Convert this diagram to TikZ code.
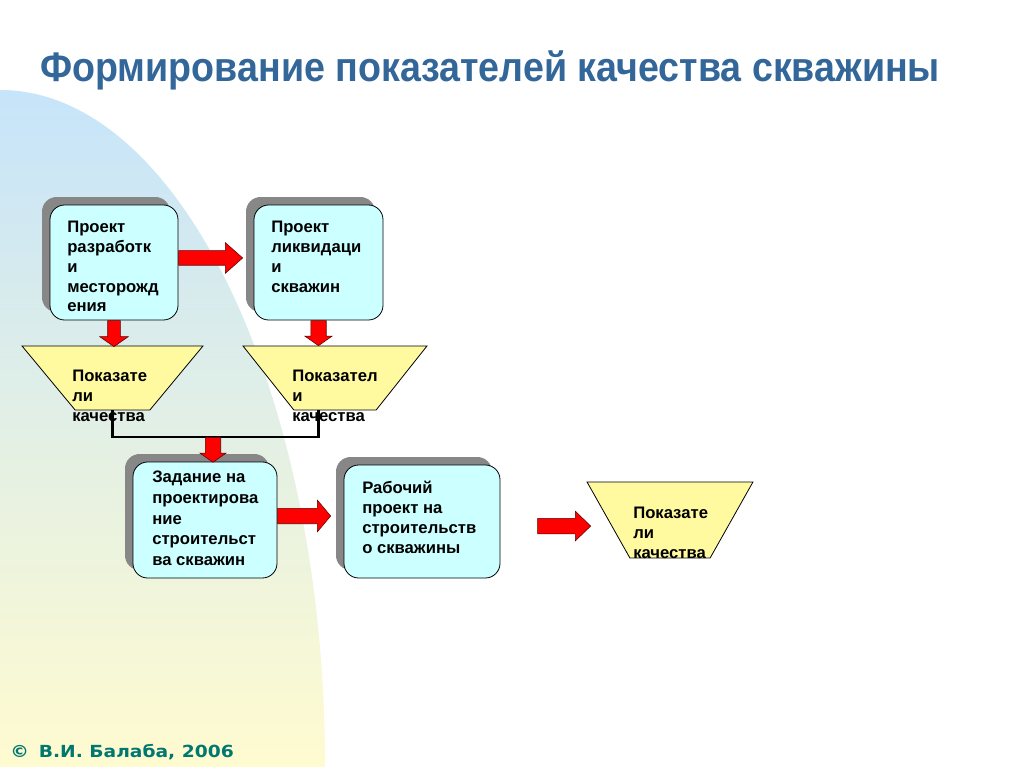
\documentclass[tikz,border=0pt]{standalone}
\usepackage{fontspec}
\setmainfont{Liberation Sans}
\newfontfamily\titlefont[FakeStretch=0.91]{Liberation Sans}
\newfontfamily\footfont[FakeStretch=1.12]{DejaVu Sans}
\usepackage{xcolor}
\usetikzlibrary{shapes.geometric,shapes.arrows,shadows,calc}
\definecolor{boxcyan}{RGB}{204,255,255}
\definecolor{trapyellow}{RGB}{255,250,160}
\definecolor{shadegray}{RGB}{135,135,135}
\definecolor{arrowred}{RGB}{255,0,0}
\definecolor{arrowedge}{RGB}{90,0,0}
\definecolor{titleblue}{RGB}{51,102,153}
\definecolor{footteal}{RGB}{0,120,112}
\definecolor{bgblue}{RGB}{198,228,250}
\definecolor{bggreen}{RGB}{228,242,228}
\definecolor{bgyellow}{RGB}{255,251,208}
\tikzset{
  prjbox/.style = {draw, fill=boxcyan, rounded corners=11pt, inner sep=0pt, line width=0.6pt,
    drop shadow={shadow xshift=-6pt, shadow yshift=6pt, fill=shadegray, opacity=1}},
  qualtrap/.style = {draw, fill=trapyellow, trapezium, shape border rotate=180,
    trapezium stretches=true, inner sep=2pt, line width=0.6pt},
  boxtext/.style = {anchor=north west, align=left, inner sep=0pt,
    font=\bfseries\fontsize{12.5}{14.85}\selectfont},
  fatright/.style = {single arrow, draw=arrowedge, fill=arrowred, line width=0.4pt,
    inner xsep=0pt, single arrow head indent=0pt, anchor=tail},
  fatdown/.style = {single arrow, draw=arrowedge, fill=arrowred, line width=0.4pt,
    inner ysep=0pt, single arrow head indent=0pt, anchor=tail, shape border rotate=270},
  joinline/.style = {black, line width=1.6pt},
}

\begin{document}
\begin{tikzpicture}[x=0.75pt,y=-0.75pt]
  \useasboundingbox (0,0) rectangle (1024,767);
  \fill[white] (0,0) rectangle (1024,767);
  \shade[top color=bgblue, middle color=bggreen, bottom color=bgyellow]
    (0,90) arc[start angle=-90, end angle=0, x radius=325, y radius=677] -- (0,767) -- cycle;

  \node[anchor=base west, text=titleblue, inner sep=0pt,
        font=\titlefont\bfseries\fontsize{31}{36}\selectfont] (title) at (40,81)
        {Формирование показателей качества скважины};

  \node[prjbox, minimum width=96pt, minimum height=86.25pt] (pr1) at (114,262.5) {};
  \node[prjbox, minimum width=96.75pt, minimum height=86.25pt] (pr2) at (318.5,262.5) {};
  \node[qualtrap, minimum width=135.75pt, minimum height=48pt, trapezium angle=54.6] (q1) at (112.5,378) {};
  \node[qualtrap, minimum width=138pt, minimum height=48pt, trapezium angle=58.3] (q2) at (335,378) {};
  \node[prjbox, minimum width=108pt, minimum height=87pt] (pr3) at (205,520) {};
  \node[prjbox, minimum width=117pt, minimum height=84.75pt] (pr4) at (422,521.5) {};
  \node[qualtrap, minimum width=124.5pt, minimum height=57pt, trapezium angle=61.9] (q3) at (670,520) {};

  \node[boxtext] (pr1txt) at (67,221) {Проект\\разработк\\и\\месторожд\\ения};
  \node[boxtext] (pr2txt) at (271,221) {Проект\\ликвидаци\\и\\скважин};
  \node[boxtext] (q1txt) at (72,370) {Показате\\ли\\качества};
  \node[boxtext] (q2txt) at (292,370) {Показател\\и\\качества};
  \node[boxtext, font=\bfseries\fontsize{12.5}{15.5}\selectfont] (pr3txt) at (152,471)
    {Задание на\\проектирова\\ние\\строительст\\ва скважин};
  \node[boxtext] (pr4txt) at (362,481) {Рабочий\\проект на\\строительств\\о скважины};
  \node[boxtext] (q3txt) at (633,507) {Показате\\ли\\качества};

  \coordinate (join) at (213,437);
  \draw[joinline] (q1.south) |- (join) -| (pr2 |- q2.south);

  \node[fatright, minimum height=48pt, inner ysep=5.25pt, single arrow head extend=6pt,
        single arrow tip angle=83] (a12) at ([yshift=3.4pt]pr1.east) {};
  \node[fatdown, minimum height=19.5pt, inner xsep=4.5pt, single arrow head extend=6pt,
        single arrow tip angle=110] (a1q) at (pr1.south) {};
  \node[fatdown, minimum height=18.75pt, inner xsep=5.6pt, single arrow head extend=4.5pt,
        single arrow tip angle=110] (a2q) at (pr2.south) {};
  \node[fatdown, minimum height=18.75pt, inner xsep=5.6pt, single arrow head extend=4.1pt,
        single arrow tip angle=110] (aj3) at (join) {};
  \node[fatright, minimum height=39.75pt, inner ysep=5.6pt, single arrow head extend=6pt,
        single arrow tip angle=100] (a34) at ([yshift=3pt]pr3.east) {};
  \node[fatright, minimum height=39.75pt, inner ysep=5.6pt, single arrow head extend=5.25pt,
        single arrow tip angle=88] (a4q) at ([xshift=27.75pt,yshift=-3.4pt]pr4.east) {};

  \node[anchor=base west, inner sep=0pt, text=footteal,
        font=\footfont\bfseries\fontsize{12.5}{15}\selectfont] (foot) at (10,757)
        {©\hspace{0.6em}В.И. Балаба, 2006};
\end{tikzpicture}
\end{document}
